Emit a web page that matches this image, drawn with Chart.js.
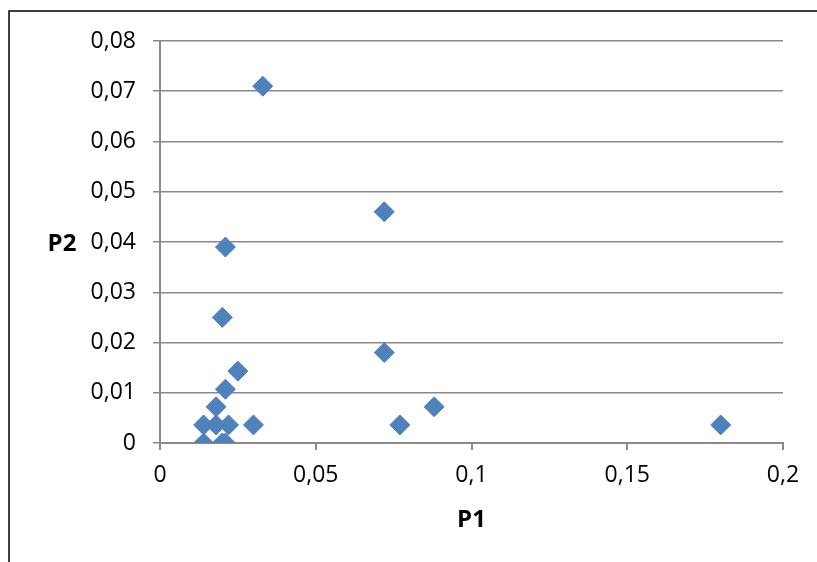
<!DOCTYPE html>
<html>
<head>
<meta charset="utf-8">
<script src="https://cdn.jsdelivr.net/npm/chart.js@4"></script>
<style>
  html, body { margin: 0; padding: 0; background: #fff; }
  #wrap { width: 817px; height: 562px; }
</style>
</head>
<body>
<div id="wrap"><canvas id="scatterChart" width="817" height="562"></canvas></div>
<script>
// ===== DATA =====
var p1Values = [0.033, 0.072, 0.021, 0.020, 0.072, 0.025, 0.021, 0.018, 0.014, 0.018, 0.022, 0.030, 0.014, 0.020, 0.021, 0.077, 0.088, 0.180];
var p2Values = [0.071, 0.046, 0.039, 0.025, 0.018, 0.0143, 0.0107, 0.0072, 0.0036, 0.0036, 0.0036, 0.0036, 0, 0, 0, 0.0036, 0.0072, 0.0036];
var xTitle = "P1";
var yTitle = "P2";

var fontFamily = "'Open Sans', 'Liberation Sans', sans-serif";
var gridColor = '#8a8a8a';
var markerColor = '#4f81bd';

// ===== HELPERS =====
function commaLabel(v) {
    var n = parseFloat(Number(v).toFixed(4));
    return String(n).replace('.', ',');
}

var points = p1Values.map(function (x, i) { return { x: x, y: p2Values[i] }; });

// border + axis titles drawn like the spreadsheet original
var decorPlugin = {
    id: 'decor',
    afterDraw: function (chart) {
        var ctx = chart.ctx;
        var area = chart.chartArea;
        ctx.save();
        ctx.strokeStyle = '#000';
        ctx.lineWidth = 1.5;
        ctx.strokeRect(9, 11, 900, 700);
        ctx.fillStyle = '#000';
        ctx.font = "bold 24px " + fontFamily;
        ctx.textAlign = 'center';
        ctx.textBaseline = 'middle';
        ctx.fillText(xTitle, (area.left + area.right) / 2, 520);
        ctx.fillText(yTitle, 62, 244);
        ctx.restore();
    }
};

new Chart(document.getElementById('scatterChart'), {
    type: 'scatter',
    data: {
        datasets: [{
            label: yTitle,
            data: points,
            pointStyle: 'rectRot',
            pointRadius: 10,
            pointHoverRadius: 10,
            backgroundColor: markerColor,
            borderColor: markerColor,
            borderWidth: 1
        }]
    },
    options: {
        responsive: false,
        animation: false,
        layout: { padding: { left: 0, right: 34, top: 41, bottom: 0 } },
        plugins: { legend: { display: false }, tooltip: { enabled: false } },
        scales: {
            x: {
                type: 'linear',
                min: 0,
                max: 0.2,
                afterFit: function (scale) { scale.height = 119; },
                ticks: {
                    stepSize: 0.05,
                    color: '#000',
                    font: { family: fontFamily, size: 23 },
                    padding: 12,
                    callback: function (v) { return commaLabel(v); }
                },
                grid: { drawOnChartArea: false, drawTicks: true, tickLength: 7, color: gridColor, lineWidth: 2 },
                border: { display: true, color: gridColor, width: 2 }
            },
            y: {
                type: 'linear',
                min: 0,
                max: 0.08,
                afterFit: function (scale) { scale.width = 160; },
                ticks: {
                    stepSize: 0.01,
                    color: '#000',
                    font: { family: fontFamily, size: 23 },
                    padding: 17,
                    callback: function (v) { return v === 0 ? '0' : Number(v).toFixed(2).replace('.', ','); }
                },
                grid: { drawOnChartArea: true, drawTicks: true, tickLength: 7, color: gridColor, lineWidth: 1.5 },
                border: { display: true, color: gridColor, width: 2 }
            }
        }
    },
    plugins: [decorPlugin]
});
</script>
</body>
</html>
